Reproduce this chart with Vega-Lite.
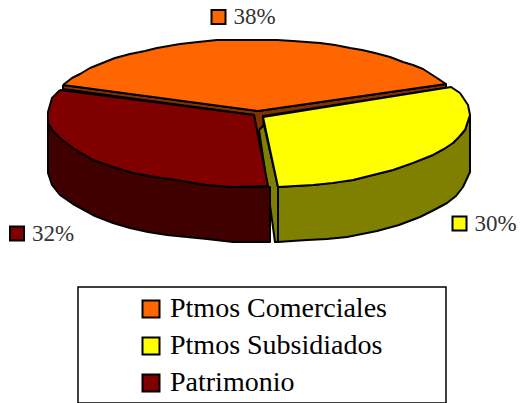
{
"$schema":"https://vega.github.io/schema/vega-lite/v6.json",
"width":520,"height":403,"padding":0,"autosize":"none","background":"white",
"view":{"stroke":null},
"datasets":{
"shape":[
{"part":"a1","kind":"side","serie":"Ptmos Comerciales","ord":1,"x":63,"y":85},{"part":"a1","kind":"side","serie":"Ptmos Comerciales","ord":2,"x":258,"y":111},{"part":"a1","kind":"side","serie":"Ptmos Comerciales","ord":3,"x":446,"y":84},{"part":"a1","kind":"side","serie":"Ptmos Comerciales","ord":4,"x":446,"y":88},{"part":"a1","kind":"side","serie":"Ptmos Comerciales","ord":5,"x":263,"y":116},{"part":"a1","kind":"side","serie":"Ptmos Comerciales","ord":6,"x":264,"y":132},{"part":"a1","kind":"side","serie":"Ptmos Comerciales","ord":7,"x":258,"y":140},{"part":"a1","kind":"side","serie":"Ptmos Comerciales","ord":8,"x":254,"y":115},{"part":"a1","kind":"side","serie":"Ptmos Comerciales","ord":9,"x":63,"y":89},{"part":"a1","kind":"side","serie":"Ptmos Comerciales","ord":10,"x":63,"y":85},
{"part":"b1","kind":"side","serie":"Ptmos Subsidiados","ord":1,"x":259,"y":130},{"part":"b1","kind":"side","serie":"Ptmos Subsidiados","ord":1.5,"x":264,"y":125},{"part":"b1","kind":"side","serie":"Ptmos Subsidiados","ord":2,"x":278,"y":187},{"part":"b1","kind":"side","serie":"Ptmos Subsidiados","ord":3,"x":278,"y":242},{"part":"b1","kind":"side","serie":"Ptmos Subsidiados","ord":4,"x":275,"y":242},{"part":"b1","kind":"side","serie":"Ptmos Subsidiados","ord":4.5,"x":269,"y":198},{"part":"b1","kind":"side","serie":"Ptmos Subsidiados","ord":5,"x":259,"y":130},
{"part":"c1","kind":"side","serie":"Patrimonio","ord":1,"x":48,"y":112},{"part":"c1","kind":"side","serie":"Patrimonio","ord":2,"x":48,"y":173},{"part":"c1","kind":"side","serie":"Patrimonio","ord":3,"x":52,"y":185},{"part":"c1","kind":"side","serie":"Patrimonio","ord":3.5,"x":60,"y":195},{"part":"c1","kind":"side","serie":"Patrimonio","ord":4,"x":73,"y":204},{"part":"c1","kind":"side","serie":"Patrimonio","ord":5,"x":95,"y":216},{"part":"c1","kind":"side","serie":"Patrimonio","ord":5.5,"x":113,"y":223},{"part":"c1","kind":"side","serie":"Patrimonio","ord":6,"x":130,"y":228},{"part":"c1","kind":"side","serie":"Patrimonio","ord":6.5,"x":148,"y":232},{"part":"c1","kind":"side","serie":"Patrimonio","ord":7,"x":167,"y":235},{"part":"c1","kind":"side","serie":"Patrimonio","ord":7.5,"x":187,"y":237},{"part":"c1","kind":"side","serie":"Patrimonio","ord":8,"x":207,"y":239},{"part":"c1","kind":"side","serie":"Patrimonio","ord":9,"x":233,"y":242},{"part":"c1","kind":"side","serie":"Patrimonio","ord":10,"x":270,"y":242},{"part":"c1","kind":"side","serie":"Patrimonio","ord":11,"x":270,"y":187},{"part":"c1","kind":"side","serie":"Patrimonio","ord":12,"x":233,"y":187},{"part":"c1","kind":"side","serie":"Patrimonio","ord":13,"x":207,"y":185},{"part":"c1","kind":"side","serie":"Patrimonio","ord":14,"x":177,"y":180},{"part":"c1","kind":"side","serie":"Patrimonio","ord":15,"x":133,"y":173},{"part":"c1","kind":"side","serie":"Patrimonio","ord":16,"x":93,"y":160},{"part":"c1","kind":"side","serie":"Patrimonio","ord":17,"x":73,"y":147},{"part":"c1","kind":"side","serie":"Patrimonio","ord":18,"x":53,"y":131},{"part":"c1","kind":"side","serie":"Patrimonio","ord":19,"x":48,"y":112},
{"part":"d1","kind":"side","serie":"Ptmos Subsidiados","ord":1,"x":470,"y":115},{"part":"d1","kind":"side","serie":"Ptmos Subsidiados","ord":2,"x":470,"y":172},{"part":"d1","kind":"side","serie":"Ptmos Subsidiados","ord":3,"x":463,"y":187},{"part":"d1","kind":"side","serie":"Ptmos Subsidiados","ord":3.5,"x":456,"y":196},{"part":"d1","kind":"side","serie":"Ptmos Subsidiados","ord":4,"x":447,"y":203},{"part":"d1","kind":"side","serie":"Ptmos Subsidiados","ord":4.5,"x":434,"y":210},{"part":"d1","kind":"side","serie":"Ptmos Subsidiados","ord":5,"x":420,"y":217},{"part":"d1","kind":"side","serie":"Ptmos Subsidiados","ord":5.5,"x":399,"y":225},{"part":"d1","kind":"side","serie":"Ptmos Subsidiados","ord":6,"x":377,"y":231},{"part":"d1","kind":"side","serie":"Ptmos Subsidiados","ord":7,"x":347,"y":237},{"part":"d1","kind":"side","serie":"Ptmos Subsidiados","ord":7.5,"x":327,"y":239},{"part":"d1","kind":"side","serie":"Ptmos Subsidiados","ord":8,"x":307,"y":240},{"part":"d1","kind":"side","serie":"Ptmos Subsidiados","ord":8.5,"x":292,"y":241},{"part":"d1","kind":"side","serie":"Ptmos Subsidiados","ord":9,"x":278,"y":242},{"part":"d1","kind":"side","serie":"Ptmos Subsidiados","ord":10,"x":278,"y":187},{"part":"d1","kind":"side","serie":"Ptmos Subsidiados","ord":11,"x":313,"y":185},{"part":"d1","kind":"side","serie":"Ptmos Subsidiados","ord":12,"x":353,"y":180},{"part":"d1","kind":"side","serie":"Ptmos Subsidiados","ord":13,"x":393,"y":170},{"part":"d1","kind":"side","serie":"Ptmos Subsidiados","ord":14,"x":433,"y":155},{"part":"d1","kind":"side","serie":"Ptmos Subsidiados","ord":15,"x":453,"y":143},{"part":"d1","kind":"side","serie":"Ptmos Subsidiados","ord":16,"x":465,"y":130},{"part":"d1","kind":"side","serie":"Ptmos Subsidiados","ord":17,"x":470,"y":115},
{"part":"t1","kind":"top","serie":"Ptmos Comerciales","ord":1,"x":63,"y":85},{"part":"t1","kind":"top","serie":"Ptmos Comerciales","ord":2,"x":72,"y":78},{"part":"t1","kind":"top","serie":"Ptmos Comerciales","ord":3,"x":80,"y":74},{"part":"t1","kind":"top","serie":"Ptmos Comerciales","ord":3.5,"x":90,"y":68},{"part":"t1","kind":"top","serie":"Ptmos Comerciales","ord":4,"x":100,"y":64},{"part":"t1","kind":"top","serie":"Ptmos Comerciales","ord":4.5,"x":115,"y":58},{"part":"t1","kind":"top","serie":"Ptmos Comerciales","ord":5,"x":130,"y":54},{"part":"t1","kind":"top","serie":"Ptmos Comerciales","ord":5.5,"x":145,"y":51},{"part":"t1","kind":"top","serie":"Ptmos Comerciales","ord":6,"x":157,"y":48},{"part":"t1","kind":"top","serie":"Ptmos Comerciales","ord":7,"x":180,"y":44},{"part":"t1","kind":"top","serie":"Ptmos Comerciales","ord":7.5,"x":198,"y":42},{"part":"t1","kind":"top","serie":"Ptmos Comerciales","ord":8,"x":217,"y":40},{"part":"t1","kind":"top","serie":"Ptmos Comerciales","ord":8.5,"x":238,"y":40},{"part":"t1","kind":"top","serie":"Ptmos Comerciales","ord":9,"x":260,"y":40},{"part":"t1","kind":"top","serie":"Ptmos Comerciales","ord":9.5,"x":277,"y":40},{"part":"t1","kind":"top","serie":"Ptmos Comerciales","ord":10,"x":293,"y":41},{"part":"t1","kind":"top","serie":"Ptmos Comerciales","ord":11,"x":320,"y":43},{"part":"t1","kind":"top","serie":"Ptmos Comerciales","ord":11.5,"x":335,"y":45},{"part":"t1","kind":"top","serie":"Ptmos Comerciales","ord":12,"x":350,"y":48},{"part":"t1","kind":"top","serie":"Ptmos Comerciales","ord":12.5,"x":362,"y":50},{"part":"t1","kind":"top","serie":"Ptmos Comerciales","ord":13,"x":375,"y":53},{"part":"t1","kind":"top","serie":"Ptmos Comerciales","ord":13.5,"x":390,"y":57},{"part":"t1","kind":"top","serie":"Ptmos Comerciales","ord":14,"x":403,"y":62},{"part":"t1","kind":"top","serie":"Ptmos Comerciales","ord":14.5,"x":413,"y":65},{"part":"t1","kind":"top","serie":"Ptmos Comerciales","ord":15,"x":423,"y":69},{"part":"t1","kind":"top","serie":"Ptmos Comerciales","ord":16,"x":437,"y":78},{"part":"t1","kind":"top","serie":"Ptmos Comerciales","ord":17,"x":446,"y":84},{"part":"t1","kind":"top","serie":"Ptmos Comerciales","ord":18,"x":258,"y":111},{"part":"t1","kind":"top","serie":"Ptmos Comerciales","ord":19,"x":63,"y":85},
{"part":"t2","kind":"top","serie":"Patrimonio","ord":1,"x":60,"y":90},{"part":"t2","kind":"top","serie":"Patrimonio","ord":2,"x":254,"y":115},{"part":"t2","kind":"top","serie":"Patrimonio","ord":3,"x":268,"y":186},{"part":"t2","kind":"top","serie":"Patrimonio","ord":4,"x":233,"y":187},{"part":"t2","kind":"top","serie":"Patrimonio","ord":5,"x":207,"y":185},{"part":"t2","kind":"top","serie":"Patrimonio","ord":5.5,"x":193,"y":183},{"part":"t2","kind":"top","serie":"Patrimonio","ord":6,"x":177,"y":180},{"part":"t2","kind":"top","serie":"Patrimonio","ord":6.5,"x":155,"y":177},{"part":"t2","kind":"top","serie":"Patrimonio","ord":7,"x":133,"y":173},{"part":"t2","kind":"top","serie":"Patrimonio","ord":7.5,"x":113,"y":167},{"part":"t2","kind":"top","serie":"Patrimonio","ord":8,"x":93,"y":160},{"part":"t2","kind":"top","serie":"Patrimonio","ord":9,"x":73,"y":148},{"part":"t2","kind":"top","serie":"Patrimonio","ord":9.5,"x":61,"y":139},{"part":"t2","kind":"top","serie":"Patrimonio","ord":10,"x":53,"y":131},{"part":"t2","kind":"top","serie":"Patrimonio","ord":11,"x":48,"y":123},{"part":"t2","kind":"top","serie":"Patrimonio","ord":12,"x":48,"y":112},{"part":"t2","kind":"top","serie":"Patrimonio","ord":13,"x":52,"y":98},{"part":"t2","kind":"top","serie":"Patrimonio","ord":14,"x":60,"y":90},
{"part":"t3","kind":"top","serie":"Ptmos Subsidiados","ord":1,"x":263,"y":117},{"part":"t3","kind":"top","serie":"Ptmos Subsidiados","ord":2,"x":451,"y":87},{"part":"t3","kind":"top","serie":"Ptmos Subsidiados","ord":3,"x":460,"y":93},{"part":"t3","kind":"top","serie":"Ptmos Subsidiados","ord":4,"x":468,"y":105},{"part":"t3","kind":"top","serie":"Ptmos Subsidiados","ord":5,"x":470,"y":115},{"part":"t3","kind":"top","serie":"Ptmos Subsidiados","ord":6,"x":465,"y":130},{"part":"t3","kind":"top","serie":"Ptmos Subsidiados","ord":6.5,"x":459,"y":137},{"part":"t3","kind":"top","serie":"Ptmos Subsidiados","ord":7,"x":453,"y":143},{"part":"t3","kind":"top","serie":"Ptmos Subsidiados","ord":7.5,"x":444,"y":149},{"part":"t3","kind":"top","serie":"Ptmos Subsidiados","ord":8,"x":433,"y":155},{"part":"t3","kind":"top","serie":"Ptmos Subsidiados","ord":8.5,"x":413,"y":163},{"part":"t3","kind":"top","serie":"Ptmos Subsidiados","ord":9,"x":393,"y":170},{"part":"t3","kind":"top","serie":"Ptmos Subsidiados","ord":9.5,"x":373,"y":175},{"part":"t3","kind":"top","serie":"Ptmos Subsidiados","ord":10,"x":353,"y":180},{"part":"t3","kind":"top","serie":"Ptmos Subsidiados","ord":10.5,"x":333,"y":183},{"part":"t3","kind":"top","serie":"Ptmos Subsidiados","ord":11,"x":313,"y":185},{"part":"t3","kind":"top","serie":"Ptmos Subsidiados","ord":12,"x":278,"y":187},{"part":"t3","kind":"top","serie":"Ptmos Subsidiados","ord":13,"x":263,"y":117}
],
"labels":[
{"serie":"Ptmos Comerciales","label":"38%","x":218.5,"y":17},
{"serie":"Ptmos Subsidiados","label":"30%","x":459.5,"y":223.5},
{"serie":"Patrimonio","label":"32%","x":17,"y":233.5}
]
},
"resolve":{"scale":{"fill":"independent"}},
"layer":[
{"data":{"name":"shape"},"transform":[{"filter":"datum.kind==='side'"}],
 "mark":{"type":"line","stroke":"black","strokeWidth":2,"strokeJoin":"round"},
 "encoding":{
  "x":{"field":"x","type":"quantitative","scale":{"domain":[0,520],"nice":false,"zero":false},"axis":null},
  "y":{"field":"y","type":"quantitative","scale":{"domain":[403,0],"nice":false,"zero":false},"axis":null},
  "order":{"field":"ord","type":"quantitative"},
  "detail":{"field":"part"},
  "fill":{"field":"serie","type":"nominal","scale":{"domain":["Ptmos Comerciales","Ptmos Subsidiados","Patrimonio"],"range":["#803300","#808000","#400000"]},"legend":null}
 }},
{"data":{"name":"shape"},"transform":[{"filter":"datum.kind==='top'"}],
 "mark":{"type":"line","stroke":"black","strokeWidth":2,"strokeJoin":"round"},
 "encoding":{
  "x":{"field":"x","type":"quantitative","scale":{"domain":[0,520],"nice":false,"zero":false},"axis":null},
  "y":{"field":"y","type":"quantitative","scale":{"domain":[403,0],"nice":false,"zero":false},"axis":null},
  "order":{"field":"ord","type":"quantitative"},
  "detail":{"field":"part"},
  "fill":{"field":"serie","type":"nominal","scale":{"domain":["Ptmos Comerciales","Ptmos Subsidiados","Patrimonio"],"range":["#FF6600","#FFFF00","#800000"]},"legend":null}
 }},
{"data":{"name":"labels"},
 "mark":{"type":"point","shape":"square","filled":true,"size":196,"stroke":"black","strokeWidth":2,"opacity":1},
 "encoding":{
  "x":{"field":"x","type":"quantitative","scale":{"domain":[0,520],"nice":false,"zero":false},"axis":null},
  "y":{"field":"y","type":"quantitative","scale":{"domain":[403,0],"nice":false,"zero":false},"axis":null},
  "fill":{"field":"serie","type":"nominal","sort":null,"scale":{"domain":["Ptmos Comerciales","Ptmos Subsidiados","Patrimonio"],"range":["#FF6600","#FFFF00","#800000"]},
   "legend":{"title":null,"orient":"none","legendX":137,"legendY":295,"symbolType":"square","symbolSize":289,"symbolStrokeColor":"black","symbolStrokeWidth":2,"symbolOpacity":1,"labelFont":"Liberation Serif","labelFontSize":28,"labelColor":"black","labelOffset":5,"rowPadding":9,"labelLimit":300}}
 }},
{"data":{"name":"labels"},
 "mark":{"type":"text","align":"left","baseline":"middle","dx":15,"font":"Liberation Serif","fontSize":23,"color":"#333333"},
 "encoding":{
  "x":{"field":"x","type":"quantitative","scale":{"domain":[0,520],"nice":false,"zero":false},"axis":null},
  "y":{"field":"y","type":"quantitative","scale":{"domain":[403,0],"nice":false,"zero":false},"axis":null},
  "text":{"field":"label"}
 }},
{"data":{"values":[{"x":78,"x2":446,"y":287,"y2":403}]},
 "mark":{"type":"rect","fill":null,"stroke":"black","strokeWidth":1.5},
 "encoding":{
  "x":{"field":"x","type":"quantitative","scale":{"domain":[0,520],"nice":false,"zero":false},"axis":null},"x2":{"field":"x2"},
  "y":{"field":"y","type":"quantitative","scale":{"domain":[403,0],"nice":false,"zero":false},"axis":null},"y2":{"field":"y2"}
 }}
]
}
